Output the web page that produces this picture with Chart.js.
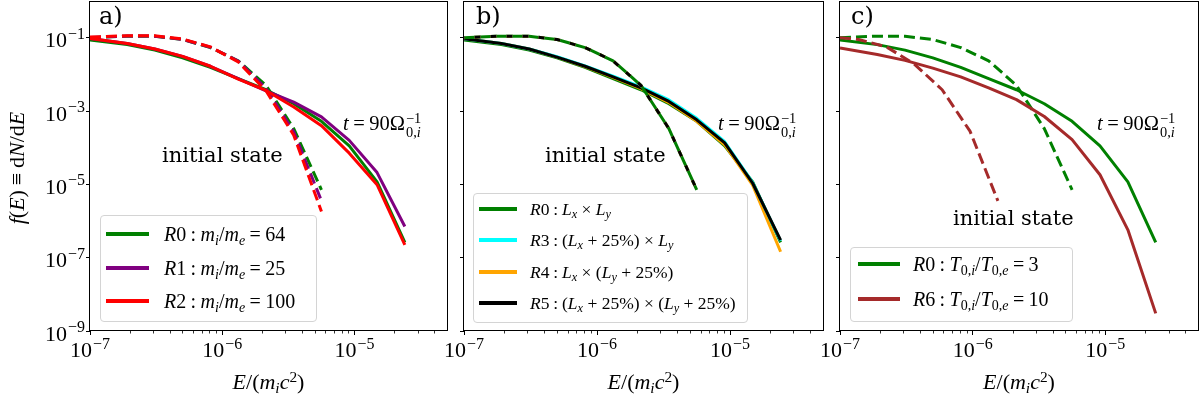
<!DOCTYPE html>
<html>
<head>
<meta charset="utf-8">
<script src="https://cdn.jsdelivr.net/npm/chart.js@4.4.0/dist/chart.umd.min.js"></script>
<style>
  html, body { margin:0; padding:0; background:#fff; overflow:hidden; }
  #fig { position:relative; width:1200px; height:396px; }
  canvas { position:absolute; top:0; }
  .txt { position:absolute; font-family:"DejaVu Serif", serif; color:#000; white-space:nowrap; line-height:1; }
  .math { position:absolute; font-family:"Liberation Serif", serif; color:#000; white-space:nowrap; line-height:1; }
  .math sub { font-size:0.7em; vertical-align:-0.28em; line-height:0; }
  .math sup { font-size:0.7em; vertical-align:0.45em; line-height:0; }
  .rel { margin:0 0.22em; font-style:normal; }
  .ss { display:inline-flex; flex-direction:column; font-size:0.7em; line-height:0.95; vertical-align:0.5em; margin-left:1px; }
  .legend { position:absolute; background:rgba(255,255,255,0.8); border:1px solid #d4d4d4; border-radius:4px; box-sizing:border-box; }
  .legend .hd { position:absolute; height:4px; }
  .legend .lb { position:absolute; height:30px; line-height:30px; font-family:"Liberation Serif", serif; white-space:nowrap; }
  .lb sub { font-size:0.7em; vertical-align:-0.28em; line-height:0; }
</style>
</head>
<body>
<div id="fig">
  <canvas id="ca"></canvas>
  <canvas id="cb"></canvas>
  <canvas id="cc"></canvas>
</div>
<script>
// energy grid of the simulated spectra, E/(m_i c^2)
const E_GRID = [1.0e-7, 1.91e-7, 3.09e-7, 5.01e-7, 8.13e-7, 1.32e-6, 2.14e-6, 3.47e-6, 5.62e-6, 9.12e-6, 1.48e-5, 2.40e-5];
// initial (maxwellian) spectra stop earlier
const E_INIT = [1.0e-7, 1.91e-7, 3.09e-7, 5.01e-7, 8.13e-7, 1.32e-6, 2.14e-6, 3.47e-6, 5.62e-6];
const E_INIT_R6 = [1.0e-7, 1.38e-7, 2.24e-7, 3.63e-7, 5.89e-7, 9.55e-7, 1.55e-6];

// f(E) at t = 90 / Omega
const R0 = [0.0871, 0.0646, 0.0457, 0.0282, 0.0155, 0.00759, 0.00380, 0.00158, 5.25e-4, 1.12e-4, 1.17e-5, 2.63e-7];
const R1 = [0.0955, 0.0692, 0.0490, 0.0309, 0.0166, 0.00759, 0.00355, 0.00174, 6.92e-4, 1.58e-4, 2.09e-5, 7.08e-7];
const R2 = [0.0955, 0.0692, 0.0490, 0.0309, 0.0166, 0.00741, 0.00363, 0.00129, 3.98e-4, 7.08e-5, 9.77e-6, 2.24e-7];
const R3 = [0.0933, 0.0692, 0.0490, 0.0302, 0.0170, 0.00891, 0.00457, 0.00200, 6.31e-4, 1.45e-4, 1.12e-5, 2.88e-7];
const R4 = [0.0933, 0.0692, 0.0490, 0.0295, 0.0162, 0.00832, 0.00407, 0.00170, 5.25e-4, 1.20e-4, 9.55e-6, 1.45e-7];
const R5 = [0.0933, 0.0692, 0.0490, 0.0295, 0.0166, 0.00851, 0.00427, 0.00182, 5.75e-4, 1.35e-4, 1.07e-5, 3.02e-7];
const R6 = [0.0525, 0.0347, 0.0240, 0.0148, 0.00851, 0.00427, 0.00204, 7.08e-4, 1.66e-4, 1.82e-5, 5.75e-7, 3.02e-9];

// initial state
const R0_INIT = [0.100, 0.110, 0.109, 0.0890, 0.0537, 0.0234, 0.00501, 3.31e-4, 7.08e-6];
const R1_INIT = [0.101, 0.111, 0.110, 0.0900, 0.0550, 0.0229, 0.00417, 2.69e-4, 3.55e-6];
const R2_INIT = [0.104, 0.113, 0.112, 0.0920, 0.0562, 0.0219, 0.00355, 2.19e-4, 1.82e-6];
const R6_INIT = [0.100, 0.0891, 0.0562, 0.0191, 0.00380, 2.82e-4, 3.55e-6];

// axis ticks
const X_TICKS = [1e-7, 1e-6, 1e-5];
const X_EXP = ["\u22127", "\u22126", "\u22125"];
const X_MINOR = [2e-7, 3e-7, 4e-7, 5e-7, 6e-7, 7e-7, 8e-7, 9e-7,
                 2e-6, 3e-6, 4e-6, 5e-6, 6e-6, 7e-6, 8e-6, 9e-6,
                 2e-5, 3e-5, 4e-5];
const Y_TICKS = [1e-9, 1e-7, 1e-5, 1e-3, 1e-1];
const Y_EXP = ["\u22129", "\u22127", "\u22125", "\u22123", "\u22121"];

const GREEN = "#008000", PURPLE = "#800080", RED = "#ff0000";
const CYAN = "#00ffff", ORANGE = "#ffa500", BLACK = "#000000", BROWN = "#a52a2a";
const DASH = [11, 5];

const PLOT_TOP = 1, PLOT_BOTTOM = 331, H = 396;

// legend texts
const LABELS_A = [
  '<i>R</i>0<span class="rel">:</span><i>m<sub>i</sub></i>/<i>m<sub>e</sub></i><span class="rel">=</span>64',
  '<i>R</i>1<span class="rel">:</span><i>m<sub>i</sub></i>/<i>m<sub>e</sub></i><span class="rel">=</span>25',
  '<i>R</i>2<span class="rel">:</span><i>m<sub>i</sub></i>/<i>m<sub>e</sub></i><span class="rel">=</span>100'
];
const LABELS_B = [
  '<i>R</i>0<span class="rel">:</span><i>L<sub>x</sub></i> \u00d7 <i>L<sub>y</sub></i>',
  '<i>R</i>3<span class="rel">:</span>(<i>L<sub>x</sub></i> + 25%) \u00d7 <i>L<sub>y</sub></i>',
  '<i>R</i>4<span class="rel">:</span><i>L<sub>x</sub></i> \u00d7 (<i>L<sub>y</sub></i> + 25%)',
  '<i>R</i>5<span class="rel">:</span>(<i>L<sub>x</sub></i> + 25%) \u00d7 (<i>L<sub>y</sub></i> + 25%)'
];
const LABELS_C = [
  '<i>R</i>0<span class="rel">:</span><i>T</i><sub>0,<i>i</i></sub>/<i>T</i><sub>0,<i>e</i></sub><span class="rel">=</span>3',
  '<i>R</i>6<span class="rel">:</span><i>T</i><sub>0,<i>i</i></sub>/<i>T</i><sub>0,<i>e</i></sub><span class="rel">=</span>10'
];

function line(E, F, color, order, dash, dashOffset) {
  return {
    data: E.map((e, i) => ({x: e, y: F[i]})),
    borderColor: color,
    borderDash: dash || [],
    borderDashOffset: dashOffset || 0,
    order: order,
    fill: false
  };
}

// draws the axes box, minor x ticks and the 10^n tick labels
const framePlugin = {
  id: "frame",
  afterDraw(chart, args, opts) {
    const ctx = chart.ctx, a = chart.chartArea;
    const x = chart.scales.x, y = chart.scales.y;
    ctx.save();
    ctx.strokeStyle = "#000";
    ctx.lineWidth = 1;
    ctx.strokeRect(Math.round(a.left) - 0.5, Math.round(a.top) + 0.5,
                   Math.round(a.right - a.left) + 1, Math.round(a.bottom - a.top) - 1);
    ctx.lineWidth = 0.8;
    X_MINOR.forEach(v => {
      const px = Math.round(x.getPixelForValue(v)) + 0.5;
      ctx.beginPath();
      ctx.moveTo(px, a.bottom);
      ctx.lineTo(px, a.bottom + 2.5);
      ctx.stroke();
    });
    ctx.fillStyle = "#000";
    ctx.textBaseline = "alphabetic";
    X_TICKS.forEach((v, i) => {
      drawPow(ctx, X_EXP[i], x.getPixelForValue(v), 357, "center");
    });
    if (opts.yLabels) {
      Y_TICKS.forEach((v, i) => {
        drawPow(ctx, Y_EXP[i], a.left - 5, y.getPixelForValue(v) + 9.5, "right");
      });
    }
    ctx.restore();
  }
};

function drawPow(ctx, exp, xRef, yBase, align) {
  ctx.font = '22px "Liberation Serif"';
  const w1 = ctx.measureText("10").width;
  ctx.font = '16px "Liberation Serif"';
  const w2 = ctx.measureText(exp).width;
  const total = w1 + 1 + w2;
  const x0 = align === "center" ? xRef - total / 2 : xRef - total;
  ctx.textAlign = "left";
  ctx.font = '22px "Liberation Serif"';
  ctx.fillText("10", x0, yBase);
  ctx.font = '16px "Liberation Serif"';
  ctx.fillText(exp, x0 + w1 + 1, yBase - 8.5);
}

function makeChart(p, datasets) {
  const cv = document.getElementById(p.id);
  const cl = p.left - p.yw;
  cv.width = p.right + p.pad - cl;
  cv.height = H;
  cv.style.left = cl + "px";
  return new Chart(cv, {
    type: "line",
    data: {datasets},
    options: {
      responsive: false,
      animation: false,
      events: [],
      layout: {padding: {left: 0, right: p.pad, top: PLOT_TOP, bottom: 0}},
      elements: {
        point: {radius: 0},
        line: {tension: 0, borderWidth: 3, borderCapStyle: "butt", borderJoinStyle: "round"}
      },
      plugins: {legend: {display: false}, tooltip: {enabled: false}, frame: {yLabels: p.yLabels}},
      scales: {
        x: {
          type: "logarithmic", min: 1e-7, max: 5e-5,
          grid: {drawOnChartArea: false, tickLength: 4, color: "#000"},
          border: {display: false},
          ticks: {display: false},
          afterBuildTicks: s => { s.ticks = X_TICKS.map(v => ({value: v})); },
          afterFit: s => { s.height = H - PLOT_BOTTOM; s.paddingLeft = 0; s.paddingRight = 0; }
        },
        y: {
          type: "logarithmic", min: 1e-9, max: 1,
          grid: {drawOnChartArea: false, tickLength: 4, color: "#000"},
          border: {display: false},
          ticks: {display: false},
          afterBuildTicks: s => { s.ticks = Y_TICKS.map(v => ({value: v})); },
          afterFit: s => { s.width = p.yw; s.paddingTop = 0; s.paddingBottom = 0; }
        }
      }
    },
    plugins: [framePlugin]
  });
}

const PANELS = [
  {id: "ca", left: 90, right: 447, yw: 90, pad: 13, yLabels: true},
  {id: "cb", left: 464, right: 823, yw: 30, pad: 13, yLabels: false},
  {id: "cc", left: 840, right: 1198, yw: 30, pad: 2, yLabels: false}
];

const chartA = makeChart(PANELS[0], [
  line(E_INIT, R2_INIT, RED, 0, DASH),
  line(E_GRID, R2, RED, 1),
  line(E_INIT, R1_INIT, PURPLE, 2, DASH),
  line(E_GRID, R1, PURPLE, 3),
  line(E_INIT, R0_INIT, GREEN, 4, DASH),
  line(E_GRID, R0, GREEN, 5)
]);

const chartB = makeChart(PANELS[1], [
  line(E_INIT, R0_INIT, BLACK, 0, [6, 10], 5.5),
  line(E_INIT, R0_INIT, ORANGE, 1, [6, 10], 5.5),
  line(E_INIT, R0_INIT, CYAN, 2, [6, 10], 5.5),
  line(E_INIT, R0_INIT, GREEN, 3, DASH),
  line(E_GRID, R5, BLACK, 4),
  line(E_GRID, R3, CYAN, 5),
  line(E_GRID, R4, ORANGE, 6),
  line(E_GRID, R0, GREEN, 7)
]);

const chartC = makeChart(PANELS[2], [
  line(E_INIT_R6, R6_INIT, BROWN, 0, DASH),
  line(E_GRID, R6, BROWN, 1),
  line(E_INIT, R0_INIT, GREEN, 2, DASH),
  line(E_GRID, R0, GREEN, 3)
]);

// ---- text overlays ----
const fig = document.getElementById("fig");

function addDiv(cls, html, style) {
  const d = document.createElement("div");
  d.className = cls;
  d.innerHTML = html;
  Object.assign(d.style, style);
  fig.appendChild(d);
  return d;
}

function addLegend(box, colors, labels) {
  const d = addDiv("legend", "", {left: box.x + "px", top: box.y + "px", width: box.w + "px", height: box.h + "px"});
  labels.forEach((lab, i) => {
    const ry = box.rows[i];
    const hd = document.createElement("div");
    hd.className = "hd";
    Object.assign(hd.style, {left: box.hx + "px", top: (ry - 2) + "px", width: box.hw + "px", background: colors[i]});
    d.appendChild(hd);
    const lb = document.createElement("div");
    lb.className = "lb";
    lb.innerHTML = lab;
    Object.assign(lb.style, {left: box.tx + "px", top: (ry - 15) + "px", fontSize: box.size + "px"});
    d.appendChild(lb);
  });
}

const tLabel = '<i>t</i><span class="rel">=</span>90\u03a9<span class="ss"><span>\u22121</span><span>0,<i>i</i></span></span>';
const xTitle = '<i>E</i>/(<i>m<sub>i</sub>c</i><sup>2</sup>)';

["a)", "b)", "c)"].forEach((t, i) => {
  addDiv("txt", t, {left: [99, 476, 851][i] + "px", top: "4px", fontSize: "24px"});
});
[[162, 145], [545, 145], [953, 208]].forEach(pos => {
  addDiv("txt", "initial state", {left: pos[0] + "px", top: pos[1] + "px", fontSize: "21px"});
});
[343, 718, 1097].forEach(x => {
  addDiv("math", tLabel, {left: x + "px", top: "112px", fontSize: "20.5px"});
});
PANELS.forEach(p => {
  const c = (p.left + p.right) / 2;
  addDiv("math", xTitle, {left: (c - 100) + "px", top: "371px", width: "200px", textAlign: "center", fontSize: "22px"});
});
addDiv("math", '<i>f</i>(<i>E</i>)<span class="rel">\u2261</span>d<i>N</i>/d<i>E</i>',
  {left: (17 - 110) + "px", top: (168 - 12) + "px", width: "220px", height: "24px", lineHeight: "24px",
   textAlign: "center", fontSize: "22px", transform: "rotate(-90deg)"});

addLegend({x: 100, y: 215, w: 217, h: 107, hx: 5, hw: 43, tx: 63, rows: [18, 52, 85], size: 20},
  [GREEN, PURPLE, RED], LABELS_A);
addLegend({x: 473, y: 193, w: 275, h: 130, hx: 5, hw: 38, tx: 56, rows: [15, 46, 78, 109], size: 17.5},
  [GREEN, CYAN, ORANGE, BLACK], LABELS_B);
addLegend({x: 850, y: 247, w: 223, h: 75, hx: 7, hw: 42, tx: 62, rows: [16, 51], size: 20},
  [GREEN, BROWN], LABELS_C);
</script>
</body>
</html>
